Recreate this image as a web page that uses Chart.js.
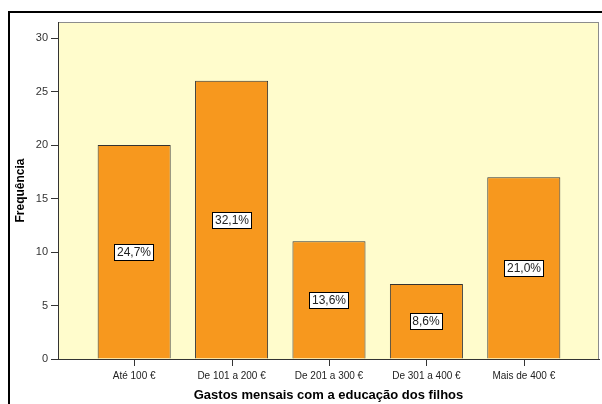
<!DOCTYPE html>
<html>
<head>
<meta charset="utf-8">
<script src="https://cdn.jsdelivr.net/npm/chart.js@4"></script>
<style>
  body { margin: 0; background: #ffffff; }
  #frame {
    position: absolute;
    left: 8px;
    top: 11px;
    width: 600px;
    height: 400px;
    border-left: 2px solid #000;
    border-top: 2px solid #000;
  }
  #wrap { position: absolute; left: 0; top: 0; width: 602px; height: 404px; }
</style>
</head>
<body>
<div id="frame"></div>
<div id="wrap"><canvas id="myChart" width="602" height="404"></canvas></div>
<script>
var categories = [
  "Até 100 €",
  "De 101 a 200 €",
  "De 201 a 300 €",
  "De 301 a 400 €",
  "Mais de 400 €",
];

var frequencies = [20, 26, 11, 7, 17];

var percentLabels = ["24,7%", "32,1%", "13,6%", "8,6%", "21,0%"];

var yTicks = [0, 5, 10, 15, 20, 25, 30];

var plotBackground = {
  id: "plotBackground",
  beforeDraw: function (chart) {
    var ctx = chart.ctx;
    var a = chart.chartArea;
    ctx.save();
    ctx.fillStyle = "#fffccc";
    ctx.fillRect(a.left, a.top, a.right - a.left, a.bottom - a.top);
    ctx.strokeStyle = "#8c8c8c";
    ctx.lineWidth = 1;
    ctx.strokeRect(a.left + 0.5, a.top + 0.5, a.right - a.left - 1, a.bottom - a.top);
    ctx.restore();
  },
};

// category tick marks under the x axis
var xTickMarks = {
  id: "xTickMarks",
  afterDraw: function (chart) {
    var ctx = chart.ctx;
    var x = chart.scales.x;
    ctx.save();
    ctx.strokeStyle = "#333333";
    ctx.lineWidth = 1;
    categories.forEach(function (c, i) {
      var px = Math.round(x.getPixelForValue(i)) + 0.5;
      ctx.beginPath();
      ctx.moveTo(px, x.top);
      ctx.lineTo(px, x.top + 7);
      ctx.stroke();
    });
    ctx.restore();
  },
};

var percentBoxes = {
  id: "percentBoxes",
  afterDatasetsDraw: function (chart) {
    var ctx = chart.ctx;
    var meta = chart.getDatasetMeta(0);
    ctx.save();
    ctx.font = "12px 'Liberation Sans', Arial, sans-serif";
    ctx.textAlign = "center";
    ctx.textBaseline = "middle";
    meta.data.forEach(function (bar, i) {
      var text = percentLabels[i];
      var cy = Math.round((bar.y + bar.base) / 2);
      var cx = Math.round(bar.x);
      var w = Math.round(ctx.measureText(text).width) + 6;
      var h = 17;
      var left = Math.round(cx - w / 2);
      var top = Math.round(cy - h / 2);
      ctx.fillStyle = "#ffffff";
      ctx.fillRect(left, top, w, h);
      ctx.strokeStyle = "#000000";
      ctx.lineWidth = 1;
      ctx.strokeRect(left + 0.5, top + 0.5, w - 1, h - 1);
      ctx.fillStyle = "#222222";
      ctx.fillText(text, cx, cy + 1);
    });
    ctx.restore();
  },
};

window.onload = function () {
  var ctx = document.getElementById("myChart").getContext("2d");
  var myChart = new Chart(ctx, {
    type: "bar",
    data: {
      datasets: [
        {
          label: "Frequência",
          data: frequencies.map(function (v, i) {
            return { x: i, y: v };
          }),
          backgroundColor: "#f7981e",
          borderColor: "#333333",
          borderWidth: 1,
          barPercentage: 0.75,
          categoryPercentage: 1,
        },
      ],
    },
    options: {
      responsive: false,
      animation: false,
      layout: { padding: { top: 22, right: 3, left: 0, bottom: 0 } },
      plugins: {
        legend: { display: false },
        tooltip: { enabled: false },
      },
      scales: {
        x: {
          type: "linear",
          offset: false,
          min: -0.782,
          max: 4.772,
          afterBuildTicks: function (scale) {
            scale.ticks = categories.map(function (c, i) {
              return { value: i };
            });
          },
          afterFit: function (scale) {
            scale.height = 45;
          },
          ticks: {
            autoSkip: false,
            maxRotation: 0,
            padding: 3,
            color: "#222222",
            font: { family: "'Liberation Sans', Arial, sans-serif", size: 10 },
            callback: function (value) {
              return categories[value];
            },
          },
          grid: {
            display: false,
            tickLength: 8,
          },
          border: { display: true, color: "#333333" },
          title: {
            display: true,
            text: "Gastos mensais com a educação dos filhos",
            color: "#000000",
            padding: { top: 0, bottom: 1 },
            font: { family: "'Liberation Sans', Arial, sans-serif", size: 13, weight: "bold" },
          },
        },
        y: {
          min: 0,
          max: 31.5,
          afterBuildTicks: function (scale) {
            scale.ticks = yTicks.map(function (v) {
              return { value: v };
            });
          },
          afterFit: function (scale) {
            scale.width = 58;
          },
          ticks: {
            padding: 3,
            color: "#333333",
            font: { family: "'Liberation Sans', Arial, sans-serif", size: 11 },
          },
          grid: {
            drawOnChartArea: false,
            drawTicks: true,
            tickLength: 7,
            color: "#333333",
          },
          border: { display: true, color: "#333333" },
          title: {
            display: true,
            text: "Frequência",
            color: "#000000",
            padding: { top: 13, bottom: 0 },
            font: { family: "'Liberation Sans', Arial, sans-serif", size: 12, weight: "bold" },
          },
        },
      },
    },
    plugins: [plotBackground, percentBoxes, xTickMarks],
  });
};
</script>
</body>
</html>
